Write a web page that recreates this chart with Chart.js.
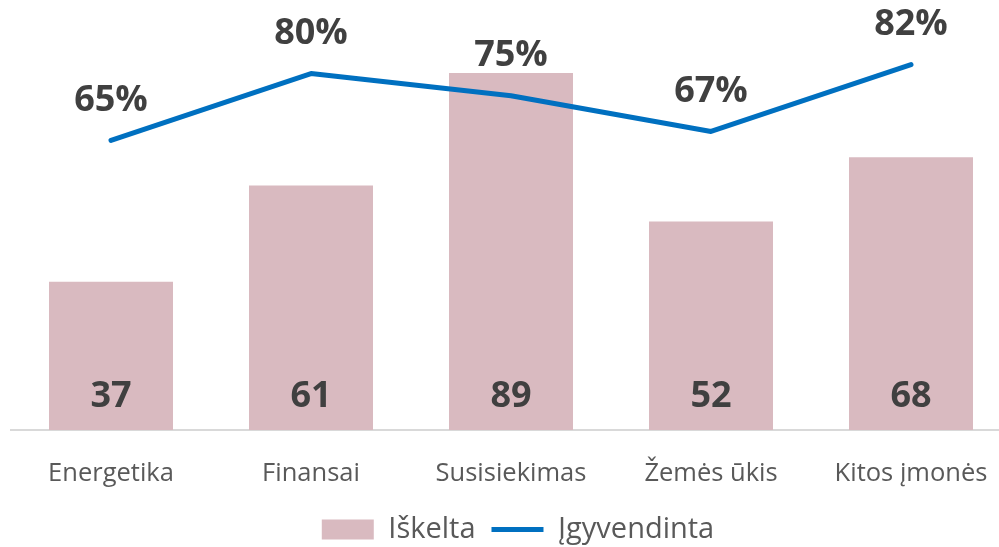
<!DOCTYPE html>
<html>
<head>
<meta charset="utf-8">
<script src="https://cdn.jsdelivr.net/npm/chart.js@4"></script>
<style>
  html, body { margin: 0; padding: 0; background: #fff; overflow: hidden; }
  #wrap { width: 1036px; height: 554px; }
</style>
</head>
<body>
<div id="wrap"><canvas id="myChart"></canvas></div>
<script>
// chart data
const categories = ['Energetika', 'Finansai', 'Susisiekimas', 'Žemės ūkis', 'Kitos įmonės'];
const raisedValues = [37, 61, 89, 52, 68];
const implementedPct = [65, 80, 75, 67, 82];
const seriesNames = ['Iškelta', 'Įgyvendinta'];

const FONT = "'Open Sans', 'Noto Sans', sans-serif";

// draws the big value labels on bars and line points
const valueLabels = {
    id: 'valueLabels',
    afterDatasetsDraw(chart) {
        const ctx = chart.ctx;
        ctx.save();
        ctx.font = 'bold 36px ' + FONT;
        ctx.fillStyle = '#404040';
        ctx.textAlign = 'center';
        ctx.textBaseline = 'middle';
        chart.getDatasetMeta(0).data.forEach((bar, i) => {
            ctx.fillText(raisedValues[i], bar.x, bar.base - 33);
        });
        chart.getDatasetMeta(1).data.forEach((pt, i) => {
            ctx.fillText(implementedPct[i] + '%', pt.x, pt.y - 40);
        });
        ctx.restore();
    }
};

const ctx = document.getElementById('myChart').getContext('2d');
const myChart = new Chart(ctx, {
    type: 'bar',
    data: {
        labels: categories,
        datasets: [{
            label: seriesNames[0],
            data: raisedValues,
            backgroundColor: '#d9bac0',
            borderWidth: 0,
            categoryPercentage: 1,
            barPercentage: 0.62,
            pointStyle: 'rect',
            yAxisID: 'y',
            order: 1
        }, {
            type: 'line',
            label: seriesNames[1],
            data: implementedPct,
            borderColor: '#0070c0',
            backgroundColor: '#0070c0',
            borderWidth: 5,
            borderCapStyle: 'round',
            borderJoinStyle: 'round',
            pointRadius: 0,
            pointHoverRadius: 0,
            pointStyle: 'line',
            tension: 0,
            yAxisID: 'y1',
            order: 0
        }]
    },
    options: {
        responsive: true,
        maintainAspectRatio: false,
        animation: false,
        layout: { padding: { top: 29, left: 0, right: 0, bottom: 0 } },
        plugins: {
            tooltip: { enabled: false },
            legend: {
                position: 'bottom',
                labels: {
                    usePointStyle: true,
                    pointStyleWidth: 52,
                    boxHeight: 20,
                    padding: 16,
                    color: '#595959',
                    font: { family: FONT, size: 29 },
                    sort: (a, b) => a.datasetIndex - b.datasetIndex
                }
            }
        },
        scales: {
            x: {
                grid: { display: false },
                border: { display: true, color: '#d9d9d9', width: 2 },
                ticks: {
                    color: '#595959',
                    padding: 20,
                    maxRotation: 0,
                    font: { family: FONT, size: 25.5 }
                },
                afterFit: (scale) => { scale.height = 69; }
            },
            y: {
                position: 'left',
                min: 0,
                max: 100,
                grid: { display: false },
                border: { display: false },
                ticks: { display: false },
                afterFit: (scale) => { scale.width = 11; }
            },
            y1: {
                position: 'right',
                min: 0,
                max: 90,
                grid: { display: false },
                border: { display: false },
                ticks: { display: false },
                afterFit: (scale) => { scale.width = 25; }
            }
        }
    },
    plugins: [valueLabels]
});
</script>
</body>
</html>
